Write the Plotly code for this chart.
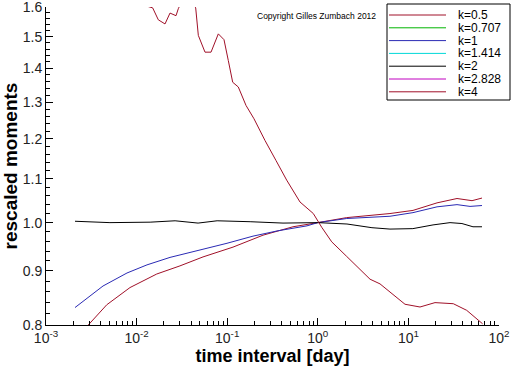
import plotly.graph_objects as go

# ---- data ----
labels = ["k=0.5", "k=0.707", "k=1", "k=1.414", "k=2", "k=2.828", "k=4"]
colors = ["#a01028", "#00b400", "#2a2ab4", "#00d8d8", "#000000", "#c000c0", "#a01028"]

x_k05 = [0.00209, 0.00293, 0.00468, 0.00845, 0.01667, 0.0301, 0.0541, 0.1159, 0.2484, 0.532,
         1.0, 2.084, 6.26, 11.24, 20.7, 34.4, 50.4, 64.9]
y_k05 = [0.78, 0.800, 0.836, 0.868, 0.894, 0.910, 0.928, 0.948, 0.973, 0.991,
         1.0, 1.011, 1.020, 1.027, 1.044, 1.054, 1.049, 1.055]

x_k1 = [0.00209, 0.00426, 0.00783, 0.01302, 0.02337, 0.0501, 0.0995, 0.1927, 0.3545, 0.760,
        1.0, 2.084, 6.26, 11.24, 20.7, 34.4, 47.9, 64.9]
y_k1 = [0.831, 0.871, 0.896, 0.912, 0.927, 0.942, 0.956, 0.971, 0.982, 0.993,
        1.0, 1.009, 1.014, 1.022, 1.035, 1.040, 1.036, 1.038]

x_k2 = [0.00209, 0.00508, 0.0141, 0.0266, 0.0477, 0.0774, 0.179, 0.413, 1.0, 2.1,
        3.96, 6.26, 11.2, 18.7, 28.8, 39.0, 51.6, 64.9]
y_k2 = [1.003, 1.0, 1.001, 1.004, 0.999, 1.004, 1.002, 0.999, 1.0, 0.997,
        0.989, 0.986, 0.987, 0.995, 1.0, 0.998, 0.991, 0.991]

x_k4 = [0.00845, 0.0104, 0.01238, 0.01505, 0.01736, 0.02058, 0.02337, 0.02722, 0.02886, 0.0351,
        0.0449, 0.0480, 0.0569, 0.0663, 0.0798, 0.0922, 0.1028, 0.1150, 0.1326, 0.1613,
        0.1976, 0.2614, 0.3456, 0.4536, 0.636, 0.892, 1.104, 1.424, 2.084, 2.923,
        3.77, 4.86, 6.81, 9.17, 13.43, 19.66, 31.3, 44.0, 66.0]
y_k4 = [1.70, 1.66, 1.605, 1.597, 1.556, 1.542, 1.579, 1.570, 1.594, 1.65,
        1.597, 1.504, 1.450, 1.450, 1.509, 1.490, 1.424, 1.358, 1.344, 1.291,
        1.254, 1.196, 1.145, 1.097, 1.046, 1.02, 0.99, 0.959, 0.929, 0.902,
        0.884, 0.875, 0.854, 0.837, 0.832, 0.840, 0.838, 0.826, 0.802]

x_tickvals = [0.001, 0.01, 0.1, 1, 10, 100]
x_ticktext = ["10<sup>-3</sup>", "10<sup>-2</sup>", "10<sup>-1</sup>",
              "10<sup>0</sup>", "10<sup>1</sup>", "10<sup>2</sup>"]
y_tickvals = [0.8, 0.9, 1.0, 1.1, 1.2, 1.3, 1.4, 1.5, 1.6]
y_ticktext = ["0.8", "0.9", "1.0", "1.1", "1.2", "1.3", "1.4", "1.5", "1.6"]

series = [(x_k05, y_k05, 0), (x_k1, y_k1, 2), (x_k2, y_k2, 4), (x_k4, y_k4, 6)]

# ---- figure ----
W, H = 512, 366
ML, MR, MT, MB = 46, 13, 7, 41
PW, PH = W - ML - MR, H - MT - MB

fig = go.Figure()
for xs, ys, idx in series:
    fig.add_trace(go.Scatter(x=xs, y=ys, mode="lines", name=labels[idx],
                             line=dict(color=colors[idx], width=1), showlegend=False))

x_minor = [m * 10.0 ** e for e in range(-3, 2) for m in range(2, 10)]
y_minor = [round(0.8 + 0.02 * i, 2) for i in range(41)]

font_family = "Liberation Sans, Arial, sans-serif"

fig.update_layout(
    width=W, height=H,
    margin=dict(l=ML, r=MR, t=MT, b=MB, autoexpand=False),
    paper_bgcolor="white", plot_bgcolor="white",
    showlegend=False,
    font=dict(family=font_family, color="black"),
    xaxis=dict(type="log", range=[-3, 2], showline=True, linecolor="black", linewidth=1,
               automargin=False, ticklabeloverflow="allow",
               showgrid=False, zeroline=False, ticks="inside", ticklen=7, tickcolor="black",
               tickmode="array", tickvals=x_tickvals, ticktext=x_ticktext,
               tickfont=dict(size=14, family=font_family, color="#222"),
               minor=dict(ticks="inside", ticklen=4, tickcolor="black", tickmode="array",
                          tickvals=x_minor, showgrid=False),
               title=dict(text="time interval [day]", standoff=2,
                          font=dict(size=18, family=font_family, weight="bold"))),
    yaxis=dict(type="log", range=[-0.096915, 0.204125], showline=True, linecolor="black", linewidth=1,
               automargin=False, ticklabeloverflow="allow",
               showgrid=False, zeroline=False, ticks="inside", ticklen=7, tickcolor="black",
               tickmode="array", tickvals=y_tickvals, ticktext=y_ticktext,
               tickfont=dict(size=14, family=font_family, color="#222"),
               minor=dict(ticks="inside", ticklen=4, tickcolor="black", tickmode="array",
                          tickvals=y_minor, showgrid=False),
               title=dict(text="rescaled moments", standoff=2,
                          font=dict(size=19, family=font_family, weight="bold"))),
)

def px_to_paper(px, py):
    return (px - ML) / PW, (H - MB - py) / PH

annotations = []
shapes = []
# copyright
cx, cy = px_to_paper(255, 16)
annotations.append(dict(text="Copyright Gilles Zumbach 2012", x=cx, y=cy, xref="paper", yref="paper",
                        xanchor="left", yanchor="middle", showarrow=False,
                        font=dict(size=8.5, family=font_family, color="black")))

# legend box
bx0, by0 = px_to_paper(387, 100)
bx1, by1 = px_to_paper(510, 4)
shapes.append(dict(type="rect", xref="paper", yref="paper", x0=bx0, y0=by0, x1=bx1, y1=by1,
                   line=dict(color="black", width=1), fillcolor="white", layer="above"))
for i, (lab, col) in enumerate(zip(labels, colors)):
    py = 15 + i * 12.8
    lx0, ly = px_to_paper(389, py)
    lx1, _ = px_to_paper(446, py)
    shapes.append(dict(type="line", xref="paper", yref="paper", x0=lx0, x1=lx1, y0=ly, y1=ly,
                       line=dict(color=col, width=1), layer="above"))
    tx, _ = px_to_paper(456, py)
    annotations.append(dict(text=lab, x=tx, y=ly, xref="paper", yref="paper",
                            xanchor="left", yanchor="middle", showarrow=False,
                            font=dict(size=12, family=font_family, color="black")))

fig.update_layout(annotations=annotations, shapes=shapes)
fig.write_html("out.html", config={"displayModeBar": False},
               post_script="document.body.style.margin='0';document.body.style.overflow='hidden';")
